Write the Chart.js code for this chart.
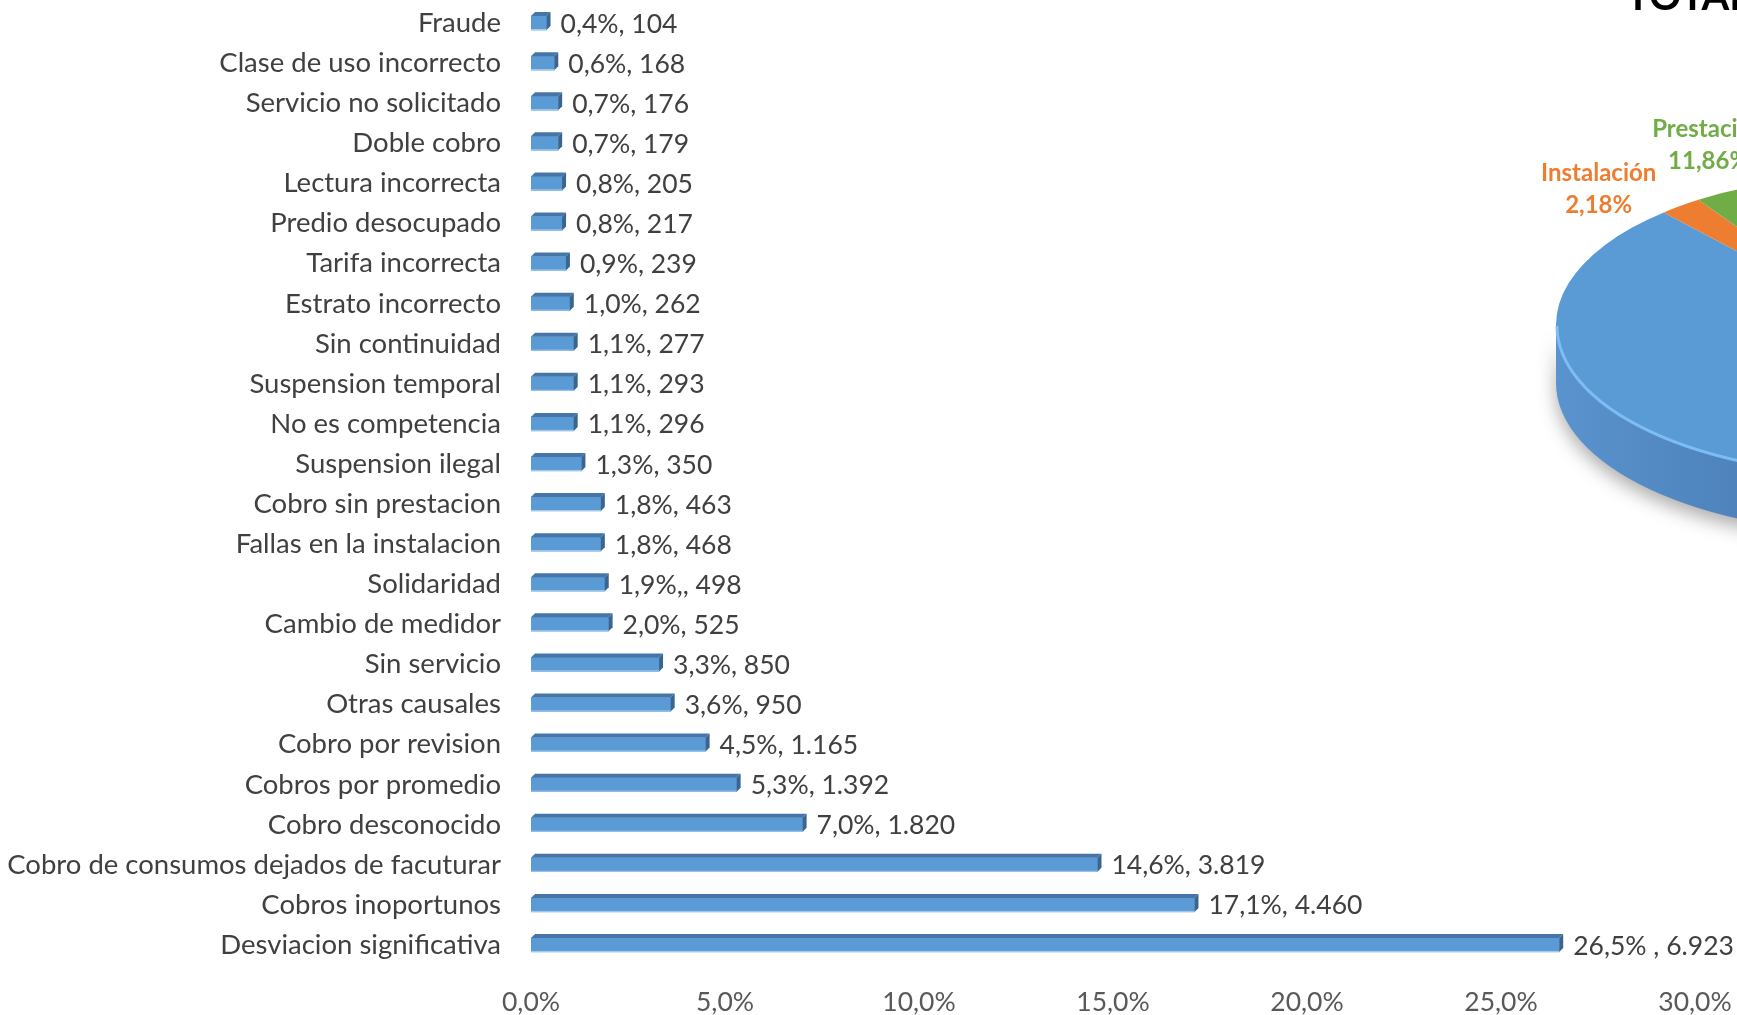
<!DOCTYPE html>
<html lang="es">
<head>
<meta charset="UTF-8">
<title>Reclamaciones por causal</title>
<script src="https://cdn.jsdelivr.net/npm/chart.js@4.4.1/dist/chart.umd.min.js"></script>
<style>
  html, body { margin: 0; padding: 0; background: #fff; }
  body { width: 1737px; height: 1015px; position: relative; overflow: hidden; }
  #bars { position: absolute; left: 0; top: 0; }
  #pie { position: absolute; left: 1446px; top: -5px; }
</style>
</head>
<body>

<canvas id="bars" width="1737" height="1015"></canvas>
<canvas id="pie" width="760" height="660"></canvas>

<script>
// causales, de arriba hacia abajo
const categories = [
  'Fraude', 'Clase de uso incorrecto', 'Servicio no solicitado', 'Doble cobro',
  'Lectura incorrecta', 'Predio desocupado', 'Tarifa incorrecta', 'Estrato incorrecto',
  'Sin continuidad', 'Suspension temporal', 'No es competencia', 'Suspension ilegal',
  'Cobro sin prestacion', 'Fallas en la instalacion', 'Solidaridad', 'Cambio de medidor',
  'Sin servicio', 'Otras causales', 'Cobro por revision', 'Cobros por promedio',
  'Cobro desconocido', 'Cobro de consumos dejados de facuturar', 'Cobros inoportunos',
  'Desviacion significativa'
];
// porcentaje del total
const shares = [0.4, 0.6, 0.7, 0.7, 0.8, 0.8, 0.9, 1.0, 1.1, 1.1, 1.1, 1.3,
                1.8, 1.8, 1.9, 2.0, 3.3, 3.6, 4.5, 5.3, 7.0, 14.6, 17.1, 26.5];
// numero de reclamaciones
const counts = [104, 168, 176, 179, 205, 217, 239, 262, 277, 293, 296, 350,
                463, 468, 498, 525, 850, 950, 1165, 1392, 1820, 3819, 4460, 6923];
// separadores tal como salen en las etiquetas originales
const labelSeparators = { 14: ',, ', 23: ' , ' };
const xTicks = [0, 5, 10, 15, 20, 25, 30];

// torta del total
const pieNames = ['Facturación', 'Instalación', 'Prestación'];
const pieShares = [85.96, 2.18, 11.86];
const pieLabeled = [false, true, true];

const barColor = '#5B9BD5';
const pieColors = ['#5B9BD5', '#ED7D31', '#70AD47'];
const pieSides = [['#5A93CE', '#4B7FB7', '#3B6694'], ['#C8651F', '#B85A1A', '#9E4C14'], ['#5C9138', '#51812F', '#446D27']];
const pieLabelShift = [[0, 0], [-82, -17], [-99, -33]];

function pct(v) { return v.toFixed(1).replace('.', ',') + '%'; }
function miles(n) { return String(n).replace(/\B(?=(\d{3})+(?!\d))/g, '.'); }

// caras superior y lateral de las barras + etiqueta de valor
const bar3d = {
  id: 'bar3d',
  afterDatasetsDraw(chart) {
    const ctx = chart.ctx;
    const d = 4;
    ctx.save();
    chart.getDatasetMeta(0).data.forEach((bar, i) => {
      const top = bar.y - bar.height / 2, bottom = bar.y + bar.height / 2;
      const x0 = bar.base, x1 = bar.x;

      ctx.fillStyle = '#4676A8';
      ctx.beginPath();
      ctx.moveTo(x0, top);
      ctx.lineTo(x0 + d, top - d);
      ctx.lineTo(x1 + d, top - d);
      ctx.lineTo(x1, top);
      ctx.closePath();
      ctx.fill();

      ctx.fillStyle = '#3A6591';
      ctx.beginPath();
      ctx.moveTo(x1, top);
      ctx.lineTo(x1 + d, top - d);
      ctx.lineTo(x1 + d, bottom - d);
      ctx.lineTo(x1, bottom);
      ctx.closePath();
      ctx.fill();

      ctx.fillStyle = '#A9CBEB';
      ctx.fillRect(x0, bottom - 1, x1 - x0, 1);

      const sep = labelSeparators[i] || ', ';
      ctx.font = '26.5px Lato';
      ctx.fillStyle = '#404040';
      ctx.textAlign = 'left';
      ctx.textBaseline = 'middle';
      ctx.fillText(pct(shares[i]) + sep + miles(counts[i]), x1 + d + 10, bar.y + 1);
    });
    ctx.restore();
  }
};

function frontRanges(a0, a1) {
  const TAU = Math.PI * 2;
  const shift = Math.floor(a0 / TAU) * TAU;
  a0 -= shift; a1 -= shift;
  const out = [];
  [[0, Math.PI], [TAU, TAU + Math.PI]].forEach(([lo, hi]) => {
    const s = Math.max(a0, lo), e = Math.min(a1, hi);
    if (e > s) out.push([s, e]);
  });
  return out;
}

const tilt = 0.47;
const depth = 58;

// torta inclinada con canto
const pie3d = {
  id: 'pie3d',
  beforeDatasetsDraw(chart) {
    const ctx = chart.ctx;
    const arcs = chart.getDatasetMeta(0).data;
    const { x, y, outerRadius: r } = arcs[0];
    const ry = r * tilt;

    ctx.save();
    ctx.shadowColor = 'rgba(0,0,0,0.32)';
    ctx.shadowBlur = 18;
    ctx.shadowOffsetY = 8;
    arcs.forEach((arc, i) => {
      frontRanges(arc.startAngle, arc.endAngle).forEach(([s, e]) => {
        const g = ctx.createLinearGradient(x - r, 0, x + r, 0);
        g.addColorStop(0, pieSides[i][0]);
        g.addColorStop(0.35, pieSides[i][1]);
        g.addColorStop(1, pieSides[i][2]);
        ctx.fillStyle = g;
        ctx.beginPath();
        ctx.ellipse(x, y, r, ry, 0, s, e);
        ctx.ellipse(x, y + depth, r, ry, 0, e, s, true);
        ctx.closePath();
        ctx.fill();
      });
    });
    ctx.restore();

    // la cara superior se dibuja achatada
    ctx.save();
    ctx.translate(0, y);
    ctx.scale(1, tilt);
    ctx.translate(0, -y);
  },
  afterDatasetsDraw(chart) {
    const ctx = chart.ctx;
    ctx.restore();

    const arcs = chart.getDatasetMeta(0).data;
    const { x, y, outerRadius: r } = arcs[0];
    const ry = r * tilt;

    ctx.save();
    ctx.strokeStyle = 'rgba(128,190,245,0.95)';
    ctx.lineWidth = 3;
    ctx.beginPath();
    ctx.ellipse(x, y + 1, r - 1, ry - 1, 0, 0, Math.PI);
    ctx.stroke();

    ctx.font = 'bold 24px Lato';
    ctx.textAlign = 'center';
    ctx.textBaseline = 'middle';
    arcs.forEach((arc, i) => {
      if (!pieLabeled[i]) return;
      const mid = (arc.startAngle + arc.endAngle) / 2;
      const px = x + r * Math.cos(mid) + pieLabelShift[i][0];
      const py = y + ry * Math.sin(mid) + pieLabelShift[i][1];
      ctx.fillStyle = pieColors[i];
      ctx.fillText(pieNames[i], px, py - 16);
      ctx.fillText(pieShares[i].toFixed(2).replace('.', ',') + '%', px, py + 16);
    });

    ctx.fillStyle = '#000';
    ctx.font = 'bold 40px Lato';
    ctx.textAlign = 'left';
    ctx.textBaseline = 'alphabetic';
    ctx.fillText('TOTAL', 180, 15);
    ctx.restore();
  }
};

function draw() {
  Chart.defaults.font.family = 'Lato';

  new Chart(document.getElementById('bars'), {
    type: 'bar',
    data: {
      labels: categories,
      datasets: [{
        data: shares,
        backgroundColor: barColor,
        borderWidth: 0,
        barThickness: 14
      }]
    },
    options: {
      indexAxis: 'y',
      responsive: false,
      animation: false,
      layout: { padding: { top: 3, right: 42, bottom: 0, left: 0 } },
      plugins: { legend: { display: false }, tooltip: { enabled: false } },
      scales: {
        x: {
          min: 0,
          max: 30,
          afterBuildTicks(scale) { scale.ticks = xTicks.map(v => ({ value: v })); },
          afterFit(scale) {
            scale.height = 50;
            scale.paddingLeft = 0;
            scale.paddingRight = 0;
          },
          grid: { display: false, drawTicks: false },
          border: { display: false },
          ticks: {
            padding: 22,
            color: '#595959',
            font: { size: 26.5 },
            callback: v => pct(v)
          }
        },
        y: {
          afterFit(scale) {
            scale.width = 531;
            scale.paddingTop = 0;
            scale.paddingBottom = 0;
          },
          grid: { display: false, drawTicks: false },
          border: { display: false },
          ticks: {
            autoSkip: false,
            padding: 30,
            color: '#404040',
            font: { size: 27.5 }
          }
        }
      }
    },
    plugins: [bar3d]
  });

  new Chart(document.getElementById('pie'), {
    type: 'pie',
    data: {
      labels: pieNames,
      datasets: [{
        data: pieShares,
        backgroundColor: pieColors,
        borderWidth: 0,
        radius: 320,
        rotation: 9
      }]
    },
    options: {
      responsive: false,
      animation: false,
      rotation: 9,
      layout: { padding: { left: 110, top: 10, right: 10, bottom: 10 } },
      plugins: { legend: { display: false }, tooltip: { enabled: false } }
    },
    plugins: [pie3d]
  });
}

document.fonts.load('26px Lato').then(() => document.fonts.load('bold 24px Lato')).then(draw, draw);
</script>

</body>
</html>
